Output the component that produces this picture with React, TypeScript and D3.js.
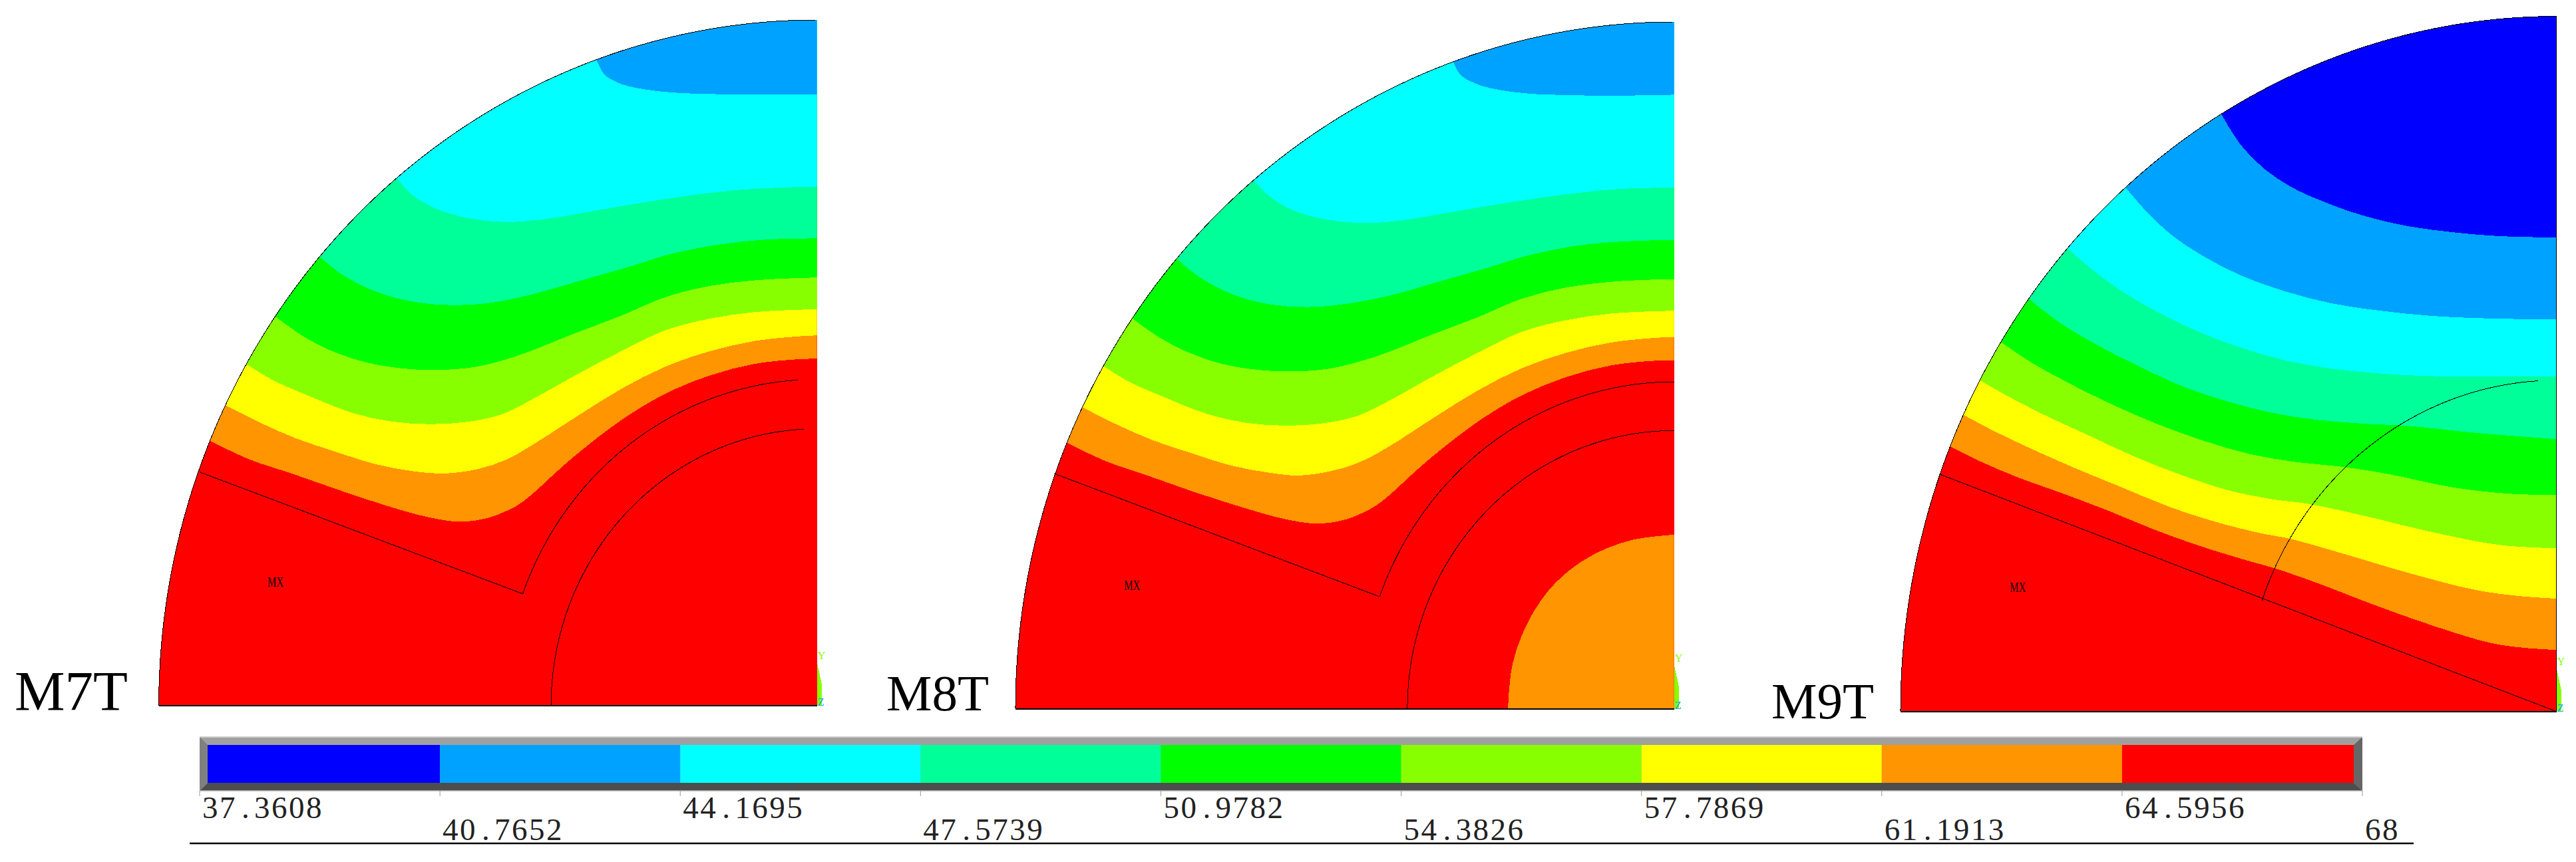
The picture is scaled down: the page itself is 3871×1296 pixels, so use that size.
import * as d3 from "d3";

// legend
const legendEdges = [37.3608, 40.7652, 44.1695, 47.5739, 50.9782, 54.3826, 57.7869, 61.1913, 64.5956, 68];
const legendLabels = ["37.3608", "40.7652", "44.1695", "47.5739", "50.9782", "54.3826", "57.7869", "61.1913", "64.5956", "68"];
const bandColors = ["#0000ff", "#00a2ff", "#00ffff", "#00ff99", "#00ff00", "#88ff00", "#ffff00", "#ff9500", "#ff0000"];

// contour lines in panel units, x from the left edge, y from the bottom; lowest level first
const m7Contours = [
  [[110,568],[195,528],[285,498],[385,463],[485,430],[575,405],[645,395],[705,403],[765,428],[800,454],[848,498],[895,539],[990,612],[1085,669],[1180,708],[1276,733],[1371,743],[1410,744]],
  [[142,645],[215,608],[295,573],[375,546],[465,518],[545,503],[610,498],[685,508],[745,528],[800,559],[895,620],[990,679],[1085,727],[1180,760],[1276,782],[1371,792],[1410,794]],
  [[190,731],[245,698],[325,663],[415,628],[495,610],[575,604],[655,608],[735,625],[800,657],[895,710],[990,760],[1085,805],[1180,830],[1276,844],[1371,849],[1410,850]],
  [[252,833],[305,795],[365,763],[445,736],[525,723],[595,720],[675,726],[745,743],[800,762],[895,800],[990,836],[1085,876],[1180,900],[1276,912],[1371,917],[1410,918]],
  [[347,961],[395,923],[465,888],[545,866],[625,859],[705,863],[800,882],[895,909],[1014,943],[1095,968],[1195,988],[1295,999],[1410,1002]],
  [[510,1131],[545,1093],[595,1065],[665,1045],[745,1037],[825,1043],[945,1063],[1065,1083],[1195,1101],[1295,1109],[1410,1113]],
  [[938,1383],[955,1353],[985,1335],[1025,1324],[1095,1315],[1195,1311],[1410,1311]],
];
const m8Contours = [
  [[110,570],[195,530],[285,499],[385,464],[485,432],[575,407],[645,397],[705,405],[765,431],[800,457],[848,501],[895,542],[990,615],[1085,672],[1180,711],[1276,736],[1371,746],[1411,747]],
  [[142,647],[213,611],[293,576],[373,549],[463,521],[543,506],[608,500],[683,511],[743,531],[800,562],[895,623],[990,682],[1085,730],[1180,763],[1276,785],[1371,795],[1411,797]],
  [[189,734],[243,701],[323,666],[413,631],[493,613],[573,607],[653,611],[733,628],[800,660],[895,713],[990,763],[1085,808],[1180,833],[1276,847],[1371,852],[1411,853]],
  [[251,836],[303,799],[363,767],[443,739],[523,726],[593,723],[673,729],[743,746],[800,765],[895,803],[990,839],[1085,879],[1180,903],[1276,915],[1371,920],[1411,921]],
  [[346,964],[393,926],[463,889],[543,867],[623,861],[703,867],[800,885],[895,912],[1014,946],[1093,970],[1193,991],[1293,1001],[1411,1005]],
  [[510,1133],[543,1099],[593,1069],[663,1049],[743,1041],[823,1046],[943,1066],[1063,1086],[1193,1104],[1293,1114],[1411,1117]],
  [[938,1386],[953,1359],[983,1341],[1023,1329],[1093,1319],[1193,1315],[1283,1314],[1411,1316]],
];
const m8Core = [[1055,0],[1065,97],[1100,190],[1155,268],[1230,326],[1318,361],[1411,373]];
const m9Contours = [
  [[110,568],[178,535],[258,502],[358,467],[458,430],[558,390],[658,355],[758,325],[823,307],[918,275],[1038,230],[1168,185],[1298,147],[1368,137],[1443,132]],
  [[140,635],[208,600],[288,563],[388,520],[488,480],[588,440],[688,408],[788,383],[858,370],[968,340],[1118,297],[1268,260],[1368,247],[1443,242]],
  [[176,709],[238,675],[318,635],[418,590],[518,545],[618,507],[718,475],[818,455],[898,445],[1018,420],[1168,385],[1318,357],[1443,350]],
  [[222,791],[288,748],[368,705],[468,657],[568,615],[668,580],[768,552],[868,535],[968,525],[1068,510],[1218,480],[1338,467],[1443,464]],
  [[283,884],[348,835],[428,788],[518,743],[618,698],[718,665],[818,640],[918,625],[1018,617],[1118,612],[1268,597],[1443,584]],
  [[368,992],[418,950],[488,900],[568,855],[658,813],[748,780],[848,752],[948,735],[1048,725],[1168,719],[1443,718]],
  [[496,1122],[538,1075],[598,1020],[668,975],[748,935],[848,900],[948,875],[1048,860],[1168,848],[1318,842],[1443,841]],
  [[706,1280],[748,1215],[798,1165],[858,1125],[938,1090],[1018,1063],[1118,1040],[1218,1027],[1318,1019],[1443,1016]],
];

// slot line and rotor arcs: radius as a share of the quarter, angle from the vertical axis
const m7Slot = [[88,501],[778,241]];
const m8Slot = [[83,504],[778,241]];
const m9Slot = [[88,508],[1443,0]];
const m7Arcs = [[0.476, 0.06, 1.22], [0.404, 0.05, 1.5708]];
const m8Arcs = [[0.476, 0, 1.22], [0.405, 0, 1.5708]];
const m9Arcs = [[0.4765, 0.058, 1.23]];
const triadWedge = [[0,94],[10,48],[10,0],[0,0]];

const panels = [
  {name: "M7T", contours: m7Contours, core: null, slot: m7Slot, arcs: m7Arcs, w: 1410, h: 1470, x0: 238.6, x1: 1227.7, y0: 1061.4, y1: 30,
    mx: [250,265], labelX: 22, labelY: 1067.5, labelSize: 85, edge: false},
  {name: "M8T", contours: m8Contours, core: m8Core, slot: m8Slot, arcs: m8Arcs, w: 1411, h: 1472, x0: 1526, x1: 2515.8, y0: 1065.6, y1: 33,
    mx: [250,265], labelX: 1332, labelY: 1068, labelSize: 77, edge: false},
  {name: "M9T", contours: m9Contours, core: null, slot: m9Slot, arcs: m9Arcs, w: 1443, h: 1490, x0: 2856, x1: 3841.7, y0: 1069.8, y1: 24.6,
    mx: [258,267], labelX: 2662, labelY: 1080, labelSize: 77, edge: true},
];

const serif = "'Liberation Serif', serif";

const Panel = ({p, index}: any) => {
  const x = d3.scaleLinear().domain([0, p.w]).range([p.x0, p.x1]);
  const y = d3.scaleLinear().domain([0, p.h]).range([p.y0, p.y1]);
  const smooth = d3.line().x((d: any) => x(d[0])).y((d: any) => y(d[1])).curve(d3.curveCatmullRom.alpha(0.5));
  const straight = d3.line().x((d: any) => x(d[0])).y((d: any) => y(d[1]));

  const onArc = (r: number, t: number) => [p.w - r * p.w * Math.sin(t), r * p.h * Math.cos(t)];
  const outline = d3.range(0, 1.5708, 0.01).concat(1.5708).map((t) => onArc(1, t));
  const quarter = straight(outline as any) + "L" + x(p.w) + "," + y(0) + "Z";

  const clipId = "quarter" + index;
  const firstBand = 7;

  return (
    <g shapeRendering="crispEdges">
      <clipPath id={clipId}><path d={quarter}/></clipPath>
      <path d={quarter} fill={bandColors[8]}/>
      <g clipPath={`url(#${clipId})`}>
        {p.contours.map((c: number[][], i: number) => {
          const closing = `L${x(p.w)},${y(p.h)}L${x(0)},${y(p.h)}L${x(0)},${y(c[0][1])}Z`;
          return <path key={i} d={smooth(c as any) + closing} fill={bandColors[firstBand - i]}/>;
        })}
        {p.core && <path d={smooth(p.core) + `L${x(p.w)},${y(0)}Z`} fill={bandColors[7]}/>}
      </g>
      <path d={straight(p.slot)} fill="none" stroke="#000" strokeWidth={1}/>
      {p.arcs.map((a: number[], i: number) => (
        <path key={i} d={straight(d3.range(a[1], a[2], 0.01).concat(a[2]).map((t) => onArc(a[0], t)) as any)}
          fill="none" stroke="#000" strokeWidth={1}/>
      ))}
      <path d={straight(outline as any)} fill="none" stroke="#000" strokeWidth={1}/>
      <line x1={x(0)} x2={x(p.w)} y1={y(0)} y2={y(0)} stroke="#000" strokeWidth={2}/>
      {p.edge && <line x1={x(p.w)} x2={x(p.w)} y1={y(p.h)} y2={y(0)} stroke="#000" strokeWidth={1.5}/>}
      <path d={straight(triadWedge.map((d) => [p.w + d[0], d[1]]) as any) + "Z"} fill={bandColors[5]}/>
      <text x={x(p.w) + 1} y={y(0)} fontSize={16} fontFamily={serif} fill={bandColors[1]}>Z</text>
      <text x={x(p.w) + 1} y={y(100)} fontSize={16} fontFamily={serif} fill={bandColors[5]}>Y</text>
      <text x={x(p.mx[0]) - 12} y={y(p.mx[1]) + 7} fontSize={21} textLength={24} lengthAdjust="spacingAndGlyphs" fontFamily={serif} fill="#000">MX</text>
      <text x={p.labelX} y={p.labelY} fontSize={p.labelSize} fontFamily={serif} fill="#000">{p.name}</text>
    </g>
  );
};

const Legend = () => {
  const lx = d3.scaleLinear().domain([legendEdges[0], legendEdges[9]]).range([300, 3550]);
  const barTop = 1108, innerTop = 1120, innerBottom = 1177, barBottom = 1189;
  const left = lx(legendEdges[0]), right = lx(legendEdges[9]);
  const pitch = 26;
  return (
    <g>
      <rect x={left} y={barTop} width={right - left} height={barBottom - barTop} fill="#a0a0a0"/>
      <polygon points={`${left},${barBottom} ${left + 12},${innerBottom} ${right - 13},${innerBottom} ${right},${barBottom}`} fill="#4d4d4d"/>
      <polygon points={`${left},${barTop} ${left + 12},${innerTop} ${left + 12},${innerBottom} ${left},${barBottom}`} fill="#808080"/>
      <polygon points={`${right},${barTop} ${right - 13},${innerTop} ${right - 13},${innerBottom} ${right},${barBottom}`} fill="#666666"/>
      <line x1={left} x2={right} y1={barTop} y2={barTop} stroke="#d0d0d0" strokeWidth={2}/>
      <line x1={left} x2={right} y1={barBottom} y2={barBottom} stroke="#bbbbbb" strokeWidth={1.5}/>
      {bandColors.map((c, i) => {
        const a = Math.max(lx(legendEdges[i]), left + 12);
        const b = Math.min(lx(legendEdges[i + 1]), right - 13);
        return <rect key={c} x={a} y={innerTop} width={b - a} height={innerBottom - innerTop} fill={c}/>;
      })}
      {legendEdges.map((v, i) => {
        const tx = lx(v);
        const chars = legendLabels[i].split("");
        const xs = chars.map((ch, k) => tx + 4 + k * pitch + (ch === "." ? 7 : 0)).join(" ");
        return (
          <g key={v}>
            <line x1={tx} x2={tx} y1={barBottom} y2={barBottom + 8} stroke="#999999" strokeWidth={1}/>
            <text x={xs} y={i % 2 === 0 ? 1230 : 1263} fontSize={47} fontFamily={serif} fill="#222">{legendLabels[i]}</text>
          </g>
        );
      })}
      <line x1={285} x2={3627} y1={1268} y2={1268} stroke="#000" strokeWidth={2.5}/>
    </g>
  );
};

export default function App() {
  return (
    <svg width={3871} height={1296} style={{position: "absolute", left: 0, top: 0, display: "block", background: "#fff"}}>
      {panels.map((p, i) => <Panel key={p.name} p={p} index={i}/>)}
      <Legend/>
    </svg>
  );
}
